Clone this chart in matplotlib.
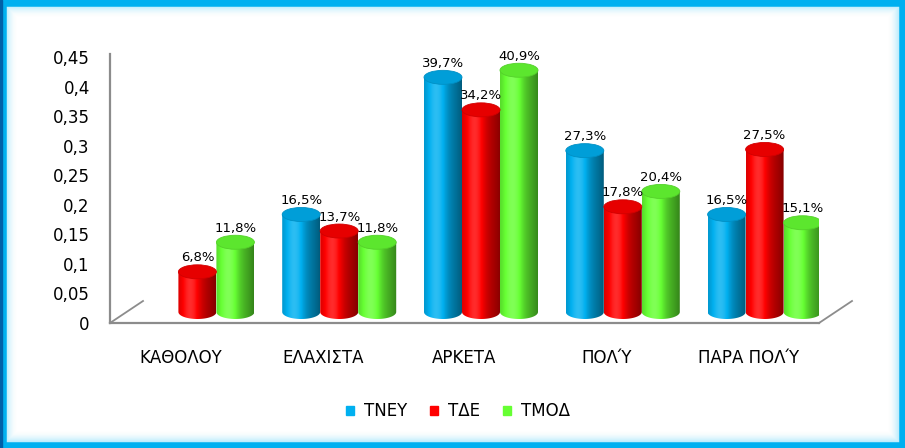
import numpy as np
import matplotlib.pyplot as plt
from matplotlib.patches import Ellipse, PathPatch, Rectangle
from matplotlib.path import Path
from matplotlib.colors import to_rgb

# data
categories = ["ΚΑΘΟΛΟΥ", "ΕΛΑΧΙΣΤΑ", "ΑΡΚΕΤΑ", "ΠΟΛΎ", "ΠΑΡΑ ΠΟΛΎ"]
series_names = ["ΤΝΕΥ", "ΤΔΕ", "ΤΜΟΔ"]
tney = [0.0, 0.165, 0.397, 0.273, 0.165]
tde = [0.068, 0.137, 0.342, 0.178, 0.275]
tmod = [0.118, 0.118, 0.409, 0.204, 0.151]
yticks = [0, 0.05, 0.1, 0.15, 0.2, 0.25, 0.3, 0.35, 0.4, 0.45]

colors = ["#00B0F0", "#FF0000", "#66FF33"]

W, H = 905, 448
fig = plt.figure(figsize=(W / 100, H / 100), dpi=100)
fig.patch.set_facecolor("white")

# axes placed so the front plane matches the reference
x0, x1, y0, y1 = 110, 819, 323, 57
ax = fig.add_axes([x0 / W, (H - y0) / H, (x1 - x0) / W, (y0 - y1) / H])
ax.set_xlim(-0.5, len(categories) - 0.5)
ax.set_ylim(0, 0.45)
ax.set_facecolor("none")

px_x = (len(categories)) / (x1 - x0)      # data units per pixel
px_y = 0.45 / (y0 - y1)

# depth offset of the 3d floor (back wall) and of the bars (middle depth)
back_dx, back_dy = 33 * px_x, 22 * px_y
bar_dx, bar_dy = back_dx / 2, back_dy / 2
bar_w = 38 * px_x
ell_h = 14 * px_y


def shade(c, f):
    r = np.array(to_rgb(c))
    if f < 1:
        return r * f
    return r + (1 - r) * (f - 1)


def cylinder(xc, top, color):
    bot = bar_dy
    top = top + bar_dy
    th = np.linspace(np.pi, 2 * np.pi, 40)
    verts = [(xc + bar_w / 2 * np.cos(t), bot + ell_h / 2 * np.sin(t)) for t in th]
    verts += [(xc + bar_w / 2, top), (xc - bar_w / 2, top), verts[0]]
    codes = [Path.MOVETO] + [Path.LINETO] * (len(verts) - 2) + [Path.CLOSEPOLY]
    body = PathPatch(Path(verts, codes), facecolor="none", edgecolor="none")
    ax.add_patch(body)
    # horizontal gradient: dark left edge, highlight, dark right edge
    u = np.linspace(0, 1, 64)
    prof = 0.80 + 0.38 * np.exp(-((u - 0.33) / 0.25) ** 2) - 0.28 * u ** 3
    grad = np.array([np.clip(shade(color, f), 0, 1) for f in prof])[None, :, :]
    im = ax.imshow(grad, extent=(xc - bar_w / 2, xc + bar_w / 2, bot - ell_h, top),
                   aspect="auto", interpolation="bilinear", zorder=2)
    im.set_clip_path(body)
    lid = Ellipse((xc, top), bar_w, ell_h, facecolor=shade(color, 0.9),
                  edgecolor=shade(color, 0.82), lw=0.6, zorder=3)
    ax.add_patch(lid)
    return top + ell_h / 2


data = [tney, tde, tmod]
offsets = [-bar_w, 0, bar_w]
for s, vals in enumerate(data):
    for i, v in enumerate(vals):
        if v <= 0:
            continue
        xc = i + bar_dx + offsets[s]
        ytop = cylinder(xc, v, colors[s])
        ax.text(xc, ytop + 0.5 * px_y, f"{v * 100:.1f}%".replace(".", ","),
                ha="center", va="bottom", fontsize=9.5, color="black",
                clip_on=False, zorder=5)

# floor and axis lines
gray = "#8C8C8C"
xl, xr = -0.5, len(categories) - 0.5
ax.plot([xl, xr], [0, 0], color=gray, lw=1.6, clip_on=False, zorder=1)
ax.plot([xl, xl + back_dx], [0, back_dy], color=gray, lw=1.3, clip_on=False, zorder=1)
ax.plot([xr, xr + back_dx], [0, back_dy], color=gray, lw=1.3, clip_on=False, zorder=1)
for sp in ["top", "right", "bottom"]:
    ax.spines[sp].set_visible(False)
ax.spines["left"].set_color(gray)
ax.spines["left"].set_linewidth(1.6)
ax.spines["left"].set_bounds(0, 0.455)

ax.set_yticks(yticks)
ax.set_yticklabels([("%g" % t).replace(".", ",") for t in yticks], fontsize=12)
ax.tick_params(axis="y", length=0, pad=14.5)
ax.set_xticks(range(len(categories)))
ax.set_xticklabels(categories, fontsize=12)
ax.tick_params(axis="x", length=0, pad=19)

# legend
handles = [Rectangle((0, 0), 1, 1, color=c) for c in colors]
fig.legend(handles, series_names, loc="center", bbox_to_anchor=(458 / W, 1 - 411 / H),
           ncol=3, frameon=False, fontsize=12, handlelength=0.45, handleheight=0.45,
           handletextpad=0.6, columnspacing=1.4)

# blue glowing frame
for k in range(12):
    a = 0.6 * (1 - k / 12) ** 2
    fig.patches.append(Rectangle((5 + k, 5 + k), W - 10 - 2 * k, H - 10 - 2 * k,
                                 transform=None, fill=False, edgecolor="#9BE3FB",
                                 lw=1.2, alpha=a, zorder=0))
fig.patches.append(Rectangle((0, 0), W, H, transform=None, fill=False,
                             edgecolor="#00B0F0", lw=9, zorder=10))
fig.patches.append(Rectangle((0, 0), 2, H, transform=None, color="#0060A8", zorder=11))

fig.savefig("out.png", dpi=100)
